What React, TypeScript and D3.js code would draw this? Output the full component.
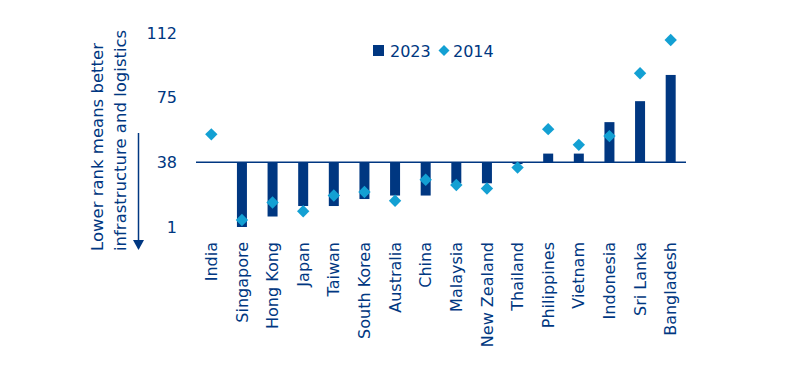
import { useEffect, useRef } from 'react';
import * as d3 from 'd3';

const countries = [
  'India', 'Singapore', 'Hong Kong', 'Japan', 'Taiwan', 'South Korea', 'Australia', 'China',
  'Malaysia', 'New Zealand', 'Thailand', 'Philippines', 'Vietnam', 'Indonesia', 'Sri Lanka', 'Bangladesh',
];
const rank2023 = [38, 1, 7, 13, 13, 17, 19, 19, 26, 26, 37, 43, 43, 61, 73, 88];
const rank2014 = [54, 5, 15, 10, 19, 21, 16, 28, 25, 23, 35, 57, 48, 53, 89, 108];
const yTicks = [1, 38, 75, 112];
const baseRank = 38;

const NAVY = '#003781';
const LIGHT = '#13A0D3';
const FONT = '"DejaVu Sans", sans-serif';

export default function App() {
  const svgRef = useRef<SVGSVGElement>(null);
  const width = 791;
  const height = 373;

  useEffect(() => {
    if (!svgRef.current) return;
    const svg = d3.select(svgRef.current);
    svg.selectAll('*').remove();

    const x = d3.scalePoint<string>().domain(countries).range([196, 686]).padding(0.5);
    const y = d3.scaleLinear().domain([1, 112]).range([227, 33]);
    const barW = 10;

    // Y tick labels
    const yAxis = svg.append('g')
      .attr('transform', 'translate(181,0)')
      .call(d3.axisLeft(y).tickValues(yTicks).tickSize(0).tickPadding(4).tickFormat(d => String(d)));
    yAxis.select('.domain').remove();
    yAxis.selectAll('text')
      .style('font-family', FONT)
      .style('font-size', '16px')
      .attr('fill', NAVY);

    // Bars (2023), drawn from India's rank
    svg.append('g')
      .selectAll('rect')
      .data(countries)
      .join('rect')
      .attr('x', d => (x(d) ?? 0) - barW / 2)
      .attr('y', (d, i) => Math.min(y(rank2023[i]), y(baseRank)))
      .attr('width', barW)
      .attr('height', (d, i) => Math.abs(y(rank2023[i]) - y(baseRank)))
      .attr('fill', NAVY);

    // Baseline
    svg.append('line')
      .attr('x1', 196)
      .attr('x2', 686)
      .attr('y1', y(baseRank))
      .attr('y2', y(baseRank))
      .attr('stroke', NAVY)
      .attr('stroke-width', 1.5);

    // Diamonds (2014)
    const diamond = (r: number) => `M0,${-r}L${r},0L0,${r}L${-r},0Z`;
    svg.append('g')
      .selectAll('path')
      .data(countries)
      .join('path')
      .attr('transform', (d, i) => `translate(${x(d) ?? 0},${y(rank2014[i])})`)
      .attr('d', diamond(6.2))
      .attr('fill', LIGHT);

    // X labels
    svg.append('g')
      .selectAll('text')
      .data(countries)
      .join('text')
      .attr('transform', d => `translate(${x(d) ?? 0},242) rotate(-90)`)
      .attr('dy', '0.35em')
      .attr('text-anchor', 'end')
      .style('font-family', FONT)
      .style('font-size', '16px')
      .attr('fill', NAVY)
      .text(d => d);

    // Y title
    const titleLines = ['Lower rank means better', 'infrastructure and logistics'];
    svg.append('g')
      .selectAll('text')
      .data(titleLines)
      .join('text')
      .attr('transform', (d, i) => `translate(${97 + i * 23},251) rotate(-90)`)
      .attr('dy', '0.35em')
      .attr('text-anchor', 'start')
      .style('font-family', FONT)
      .style('font-size', '16.5px')
      .attr('fill', NAVY)
      .text(d => d);

    // Arrow
    svg.append('line')
      .attr('x1', 138.5)
      .attr('x2', 138.5)
      .attr('y1', 133)
      .attr('y2', 242)
      .attr('stroke', NAVY)
      .attr('stroke-width', 1.5);
    svg.append('path')
      .attr('d', 'M133,240L144,240L138.5,250Z')
      .attr('fill', NAVY);

    // Legend
    const lg = svg.append('g');
    lg.append('rect')
      .attr('x', 373)
      .attr('y', 45)
      .attr('width', 11)
      .attr('height', 11)
      .attr('fill', NAVY);
    lg.append('text')
      .attr('x', 390)
      .attr('y', 56.5)
      .style('font-family', FONT)
      .style('font-size', '16px')
      .attr('fill', NAVY)
      .text('2023');
    lg.append('path')
      .attr('transform', 'translate(444,50.5)')
      .attr('d', diamond(5.5))
      .attr('fill', LIGHT);
    lg.append('text')
      .attr('x', 453)
      .attr('y', 56.5)
      .style('font-family', FONT)
      .style('font-size', '16px')
      .attr('fill', NAVY)
      .text('2014');
  }, []);

  return (
    <svg
      ref={svgRef}
      width={width}
      height={height}
      viewBox={`0 0 ${width} ${height}`}
      style={{ position: 'absolute', left: 0, top: 0, background: '#fff' }}
    />
  );
}
